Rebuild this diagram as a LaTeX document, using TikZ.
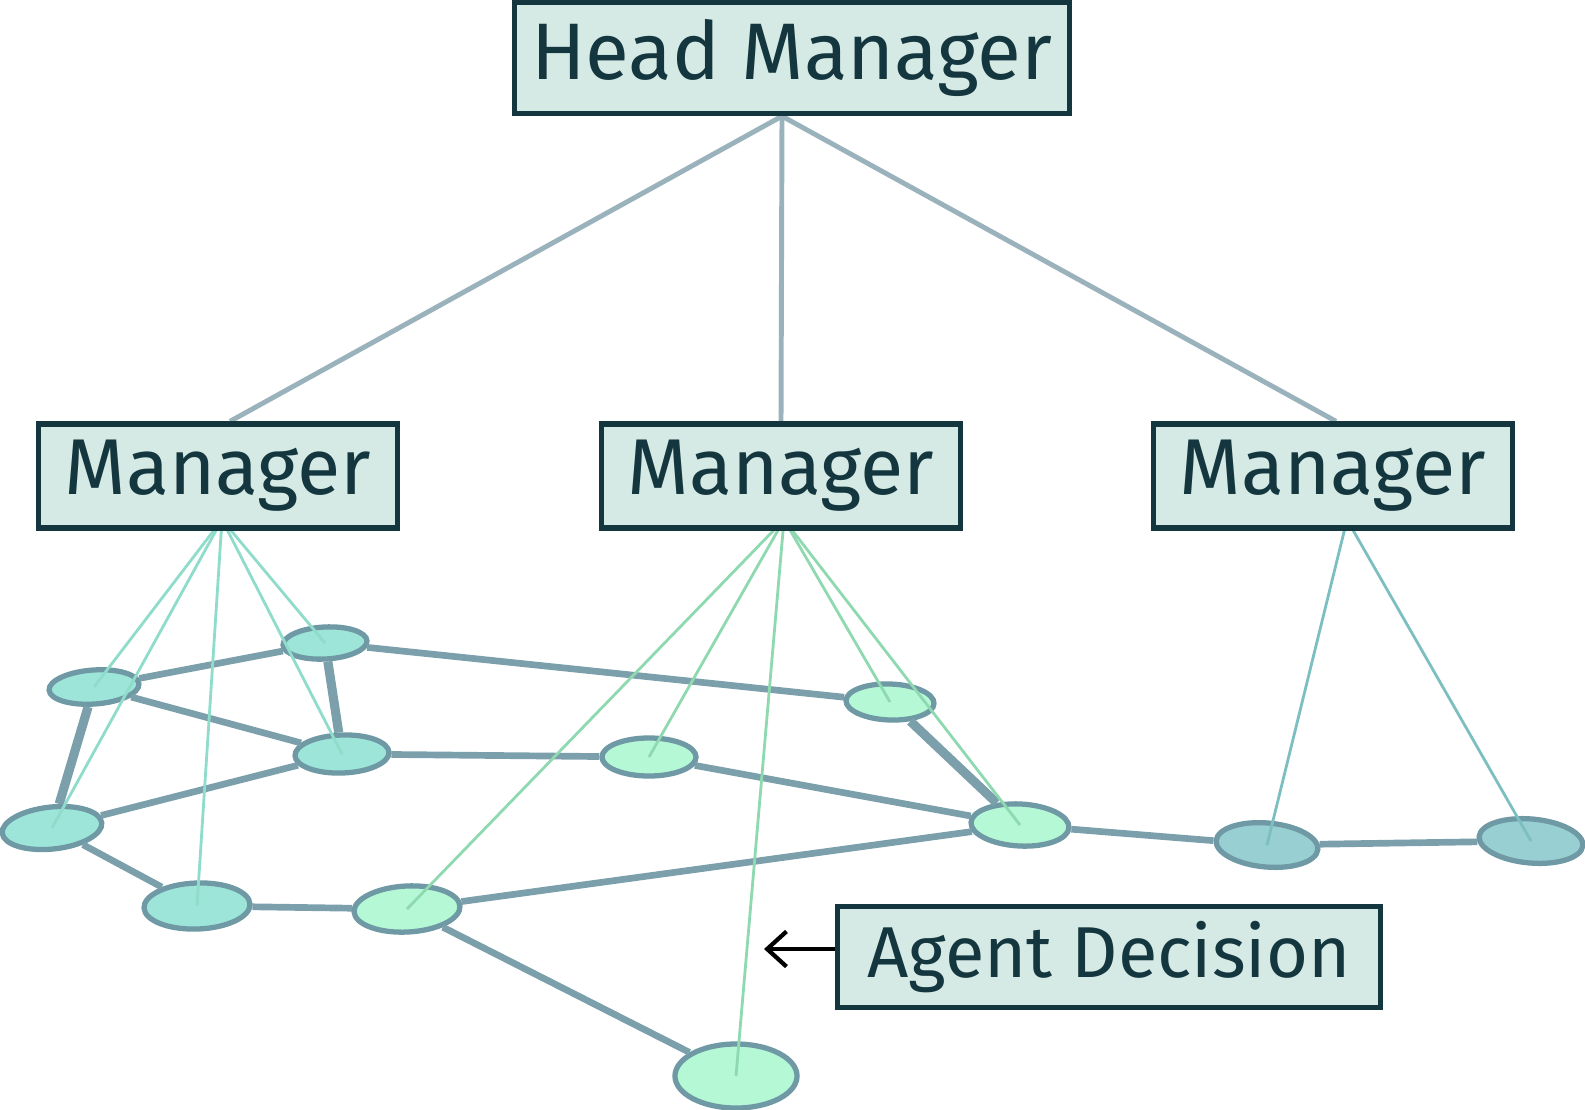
\documentclass[tikz,border=0pt]{standalone}
\usepackage{fontspec}
\setmainfont{Fira Sans}
\usetikzlibrary{shapes.geometric,arrows.meta}

\definecolor{boxfill}{HTML}{D5E9E5}
\definecolor{boxline}{HTML}{14363E}
\definecolor{headline}{HTML}{9AB2BB}
\definecolor{linkcol}{HTML}{7BA0AC}
\definecolor{agentline}{HTML}{6F9AA5}
\definecolor{leftfill}{HTML}{9DE5D8}
\definecolor{midfill}{HTML}{B5F8D6}
\definecolor{rightfill}{HTML}{97CFD2}
\definecolor{leftthin}{HTML}{8FDCCB}
\definecolor{midthin}{HTML}{8FD9B0}
\definecolor{rightthin}{HTML}{7DBFC0}

\pgfdeclarelayer{front}
\pgfsetlayers{main,front}

\begin{document}
\begin{tikzpicture}[x=0.01cm,y=-0.01cm,
  mgr/.style={draw=boxline,fill=boxfill,line width=1.5pt,text=boxline,
    font=\fontsize{22.5}{27}\selectfont,inner sep=0pt,
    minimum width=3.59cm,minimum height=1.04cm},
  agent/.style={ellipse,draw=agentline,line width=1.5pt,inner sep=0pt},
  lagent/.style={agent,fill=leftfill},
  magent/.style={agent,fill=midfill},
  ragent/.style={agent,fill=rightfill},
  up/.style={draw=headline,line width=1.4pt},
  link/.style={draw=linkcol,line width=1.9pt},
  thicklink/.style={draw=linkcol,line width=2.6pt},
  thin/.style={line width=0.8pt},
  pointer/.style={draw=black,line width=1.2pt,-{Straight Barb[length=5.5pt,width=10pt]}}]
\useasboundingbox (0,0) rectangle (1585,1109);

% managers
\begin{pgfonlayer}{front}
\node[mgr,minimum width=5.55cm,minimum height=1.11cm,font=\fontsize{22.8}{27}\selectfont] (head) at (792,58) {Head Manager};
\node[mgr] (m1) at (218,476) {Manager};
\node[mgr] (m2) at (781,476) {Manager};
\node[mgr] (m3) at (1333,476) {Manager};
\node[mgr,minimum width=5.43cm,minimum height=1.01cm,font=\fontsize{20.5}{25}\selectfont] (dec) at (1109,957) {Agent Decision};
\end{pgfonlayer}

\draw[up] ([xshift=-0.1cm]head.south) -- ([xshift=0.12cm]m1.north);
\draw[up] ([xshift=-0.1cm]head.south) -- (m2.north);
\draw[up] ([xshift=-0.1cm]head.south) -- ([xshift=0.03cm]m3.north);

% agents
\node[lagent,minimum width=0.9cm,minimum height=0.34cm,rotate=4] (a1) at (94,687) {};
\node[lagent,minimum width=0.84cm,minimum height=0.32cm,rotate=3] (a2) at (325,643) {};
\node[lagent,minimum width=0.94cm,minimum height=0.38cm,rotate=2] (a3) at (342,754) {};
\node[lagent,minimum width=1cm,minimum height=0.42cm,rotate=6] (a4) at (52,828) {};
\node[lagent,minimum width=1.06cm,minimum height=0.46cm,rotate=2] (a5) at (197,906) {};
\node[magent,minimum width=1.06cm,minimum height=0.46cm,rotate=3] (b1) at (407,909) {};
\node[magent,minimum width=0.94cm,minimum height=0.38cm] (b2) at (649,757) {};
\node[magent,minimum width=0.88cm,minimum height=0.36cm,rotate=-2] (b3) at (890,702) {};
\node[magent,minimum width=0.98cm,minimum height=0.42cm,rotate=-3] (b4) at (1020,825) {};
\node[magent,minimum width=1.22cm,minimum height=0.64cm] (b5) at (736,1076) {};
\node[ragent,minimum width=1.02cm,minimum height=0.44cm,rotate=-5] (c1) at (1267,845) {};
\node[ragent,minimum width=1.04cm,minimum height=0.44cm,rotate=-5] (c2) at (1531,841) {};

% links between agents
\draw[link] (a1) -- (a2);
\draw[link] (a1) -- (a3);
\draw[thicklink] (a1) -- (a4);
\draw[thicklink] (a2) -- (a3);
\draw[link] (a2) -- (b3);
\draw[link] (a3) -- (b2);
\draw[link] (a3) -- (a4);
\draw[link] (a4) -- (a5);
\draw[link] (a5) -- (b1);
\draw[link] (b1) -- (b4);
\draw[link] (b1) -- (b5);
\draw[link] (b2) -- (b4);
\draw[thicklink] (b3) -- (b4);
\draw[link] (b4) -- (c1);
\draw[link] (c1) -- (c2);

% who reports to whom
\coordinate (o1) at ([shift={(4,-11)}]m1.south);
\coordinate (o2) at ([shift={(3,-11)}]m2.south);
\coordinate (o3) at ([shift={(14,-11)}]m3.south);
\foreach \a in {a1,a2,a3,a4,a5}
  \draw[thin,leftthin] (o1) -- (\a.center);
\foreach \b in {b1,b2,b3,b4,b5}
  \draw[thin,midthin] (o2) -- (\b.center);
\foreach \c in {c1,c2}
  \draw[thin,rightthin] (o3) -- (\c.center);

\coordinate (tip) at (764,949);
\draw[pointer] (dec.west |- tip) -- (tip);
\end{tikzpicture}
\end{document}
